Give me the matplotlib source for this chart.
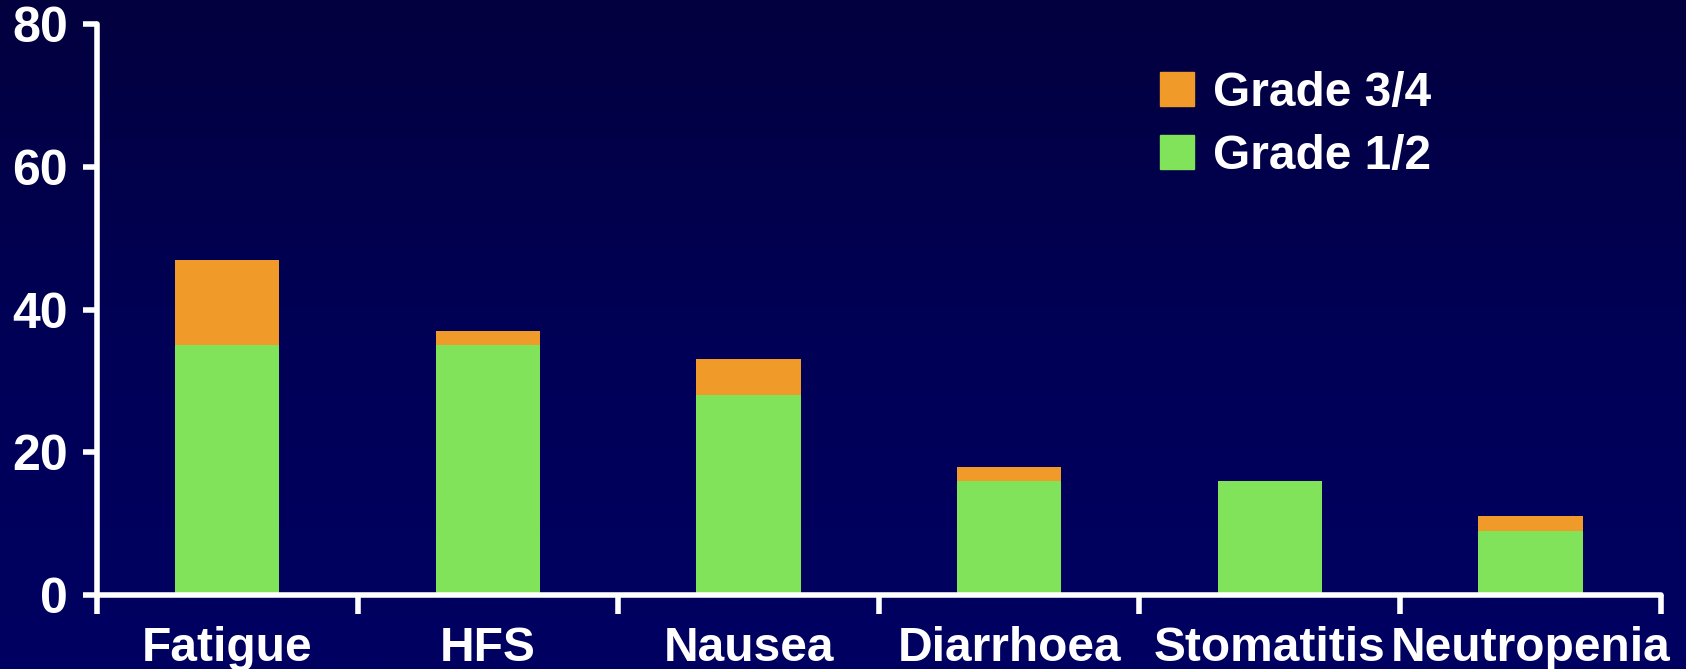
import numpy as np
import matplotlib
matplotlib.use("Agg")
import matplotlib.pyplot as plt
from matplotlib.patches import Patch
from matplotlib.colors import LinearSegmentedColormap

categories = ["Fatigue", "HFS", "Nausea", "Diarrhoea", "Stomatitis", "Neutropenia"]
grade_12 = [35, 35, 28, 16, 16, 9]
grade_34 = [12, 2, 5, 2, 0, 2]
y_ticks = [0, 20, 40, 60, 80]

green = "#80E35A"
orange = "#F09A2A"

plt.rcParams['font.family'] = ['Liberation Sans', 'DejaVu Sans']
plt.rcParams['font.weight'] = 'bold'

fig = plt.figure(figsize=(16.86, 6.69), dpi=100)

# background gradient, a bit darker at the top
bg = fig.add_axes([0, 0, 1, 1], zorder=-10)
grad = np.linspace(0, 1, 256).reshape(-1, 1)
cmap = LinearSegmentedColormap.from_list("bg", ["#03003e", "#000056", "#000062"])
bg.imshow(grad, aspect="auto", cmap=cmap, extent=[0, 1, 0, 1], origin="upper")
bg.axis("off")

ax = fig.add_axes([0.0575, 0.1106, 0.9275, 0.8535])
ax.set_facecolor("none")

x = np.arange(len(categories))
ax.bar(x, grade_12, width=0.4, color=green, zorder=2)
ax.bar(x, grade_34, width=0.4, bottom=grade_12, color=orange, zorder=2)

ax.set_xlim(-0.5, len(categories) - 0.5)
ax.set_ylim(0, 80)
ax.set_yticks(y_ticks)
ax.set_xticks(x)
ax.set_xticklabels(categories)
ax.set_xticks(np.arange(len(categories) + 1) - 0.5, minor=True)

for s in ["top", "right"]:
    ax.spines[s].set_visible(False)
for s in ["left", "bottom"]:
    ax.spines[s].set_color("white")
    ax.spines[s].set_linewidth(4)
    ax.spines[s].set_capstyle("round")

ax.tick_params(axis="y", colors="white", labelsize=36, length=10, width=4, pad=11)
ax.tick_params(axis="x", which="major", colors="white", labelsize=34.5, length=0, pad=22)
ax.tick_params(axis="x", which="minor", colors="white", length=14, width=4)
for lab in ax.get_xticklabels() + ax.get_yticklabels():
    lab.set_fontweight("bold")

handles = [Patch(color=orange, label="Grade 3/4"), Patch(color=green, label="Grade 1/2")]
leg = ax.legend(handles=handles, loc="upper left", bbox_to_anchor=(0.652, 0.993),
                frameon=False, fontsize=34.5, handlelength=0.72, handleheight=0.72,
                handletextpad=0.4, labelspacing=0.37)
for t in leg.get_texts():
    t.set_color("white")
    t.set_fontweight("bold")

fig.savefig("out.png", dpi=100)
